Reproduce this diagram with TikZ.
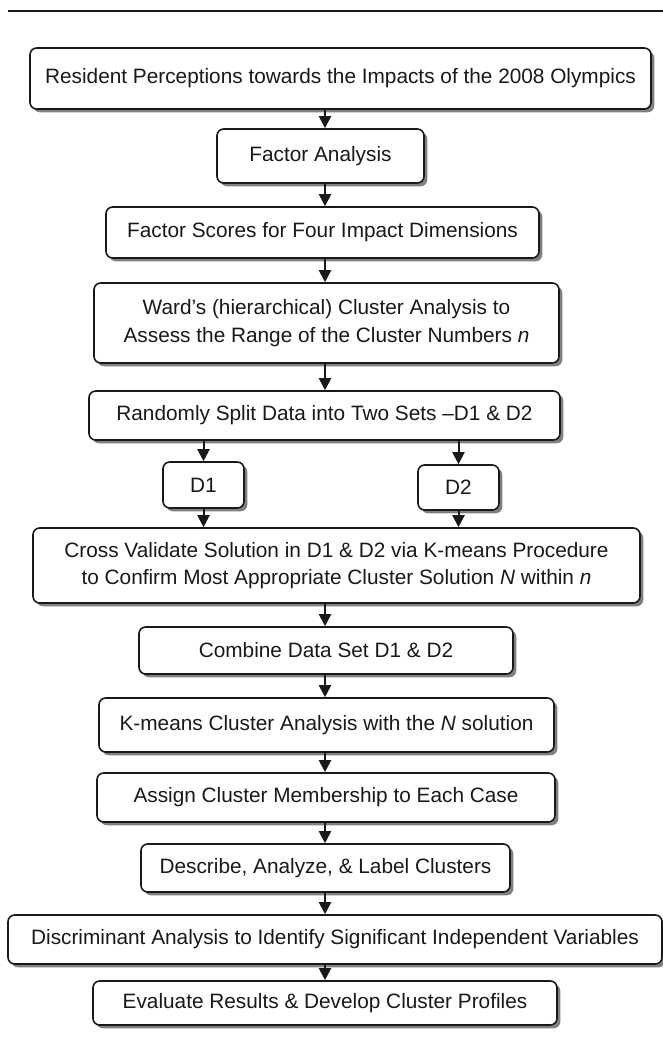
\documentclass[tikz,border=0pt]{standalone}
\usepackage{fontspec}
\setmainfont{Liberation Sans}
\usetikzlibrary{arrows.meta,shadows}
\tikzset{
  stepbox/.style={draw=black!90, line width=1.2pt, rounded corners=5pt, fill=white,
    drop shadow={shadow xshift=2.5pt, shadow yshift=-2.5pt, fill=black!50, opacity=1},
    align=center, inner sep=0pt, text=black!90,
    font=\fontsize{15.6}{20.5}\selectfont},
  boxsize/.style 2 args={minimum width=#1*0.75pt, minimum height=#2*0.75pt},
  arr/.style={-{Triangle[length=9pt,width=9pt]}, line width=1.5pt, draw=black!90},
}
\begin{document}
\begin{tikzpicture}[x=0.75pt,y=-0.75pt]
    \useasboundingbox (0,0) rectangle (663,1051);
    \draw[line width=1.6pt, black!90] (8,11) -- (663,11);
    \coordinate (col) at (325,0);
    \node[stepbox, boxsize={621}{61}] (A0) at (340.5,78.5)
      {Resident Perceptions towards the Impacts of the 2008 Olympics};
    \node[stepbox, boxsize={207}{54}] (A1) at (320.5,156) {Factor Analysis};
    \node[stepbox, boxsize={433}{51}] (A2) at (322.5,232.5)
      {Factor Scores for Four Impact Dimensions};
    \node[stepbox, boxsize={465}{80}] (A3) at (326.5,323)
      {Ward’s (hierarchical) Cluster Analysis to\\
       Assess the Range of the Cluster Numbers \textit{n}};
    \node[stepbox, boxsize={471}{49}] (A4) at (324.5,415.5)
      {Randomly Split Data into Two Sets --D1 \& D2};
    \node[stepbox, boxsize={81}{46}] (A5_0) at (203.5,485) {D1};
    \node[stepbox, boxsize={81}{45}] (A5_1) at (458.5,487.5) {D2};
    \node[stepbox, boxsize={607}{75}] (A6) at (336.5,565.5)
      {Cross Validate Solution in D1 \& D2 via K-means Procedure\\
       to Confirm Most Appropriate Cluster Solution \textit{N} within \textit{n}};
    \node[stepbox, boxsize={374}{47}] (A7) at (326,650.5) {Combine Data Set D1 \& D2};
    \node[stepbox, boxsize={455}{54}] (A8) at (326.5,725)
      {K-means Cluster Analysis with the \textit{N} solution};
    \node[stepbox, boxsize={458}{49}] (A9) at (326,797.5)
      {Assign Cluster Membership to Each Case};
    \node[stepbox, boxsize={369}{48}] (A10) at (325.5,868)
      {Describe, Analyze, \& Label Clusters};
    \node[stepbox, boxsize={654}{49}] (A11) at (335,939.5)
      {Discriminant Analysis to Identify Significant Independent Variables};
    \node[stepbox, boxsize={464}{44}] (A12) at (325,1003)
      {Evaluate Results \& Develop Cluster Profiles};
    % main column
    \path (A0.south -| col) edge [arr] (A1.north -| col);
    \path (A1.south -| col) edge [arr] (A2.north -| col);
    \path (A2.south -| col) edge [arr] (A3.north -| col);
    \path (A3.south -| col) edge [arr] (A4.north -| col);
    % split into D1 and D2
    \path (A4.south -| A5_0) edge [arr] (A5_0.north);
    \path (A4.south -| A5_1) edge [arr] (A5_1.north);
    \path (A5_0.south) edge [arr] (A6.north -| A5_0);
    \path (A5_1.south) edge [arr] (A6.north -| A5_1);
    \path (A6.south -| col) edge [arr] (A7.north -| col);
    \path (A7.south -| col) edge [arr] (A8.north -| col);
    \path (A8.south -| col) edge [arr] (A9.north -| col);
    \path (A9.south -| col) edge [arr] (A10.north -| col);
    \path (A10.south -| col) edge [arr] (A11.north -| col);
    \path (A11.south -| col) edge [arr] (A12.north -| col);
\end{tikzpicture}
\end{document}
